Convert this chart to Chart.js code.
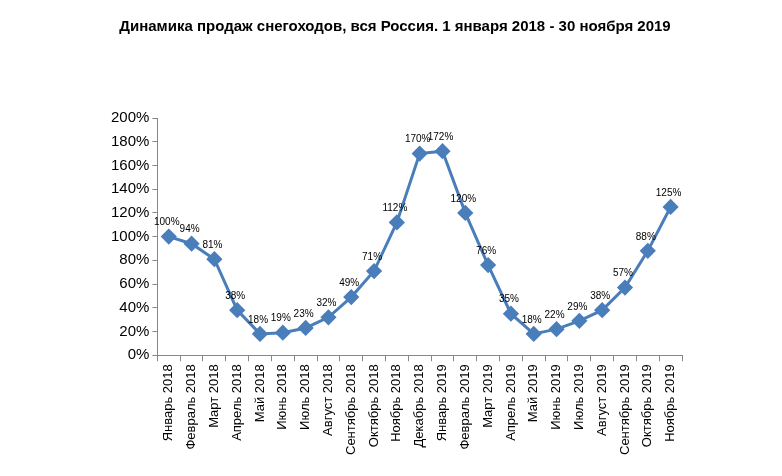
<!DOCTYPE html>
<html>
<head>
<meta charset="utf-8">
<script src="https://cdn.jsdelivr.net/npm/chart.js@4"></script>
<style>
  body { margin: 0; background: #fff; }
  #wrap { width: 782px; height: 476px; position: relative; }
</style>
</head>
<body>
<div id="wrap"><canvas id="salesChart"></canvas></div>
<script>
// Динамика продаж снегоходов
const months = ['Январь 2018', 'Февраль 2018', 'Март 2018', 'Апрель 2018', 'Май 2018', 'Июнь 2018',
  'Июль 2018', 'Август 2018', 'Сентябрь 2018', 'Октябрь 2018', 'Ноябрь 2018', 'Декабрь 2018',
  'Январь 2019', 'Февраль 2019', 'Март 2019', 'Апрель 2019', 'Май 2019', 'Июнь 2019',
  'Июль 2019', 'Август 2019', 'Сентябрь 2019', 'Октябрь 2019', 'Ноябрь 2019'];
const salesPct = [100, 94, 81, 38, 18, 19, 23, 32, 49, 71, 112, 170, 172, 120, 76, 35, 18, 22, 29, 38, 57, 88, 125];

const pointLabels = {
    id: 'pointLabels',
    afterDatasetsDraw(chart) {
        const ctx = chart.ctx;
        const meta = chart.getDatasetMeta(0);
        ctx.save();
        ctx.font = '10px Arial, "Liberation Sans"';
        ctx.fillStyle = '#000';
        ctx.textAlign = 'center';
        ctx.textBaseline = 'bottom';
        meta.data.forEach((pt, i) => {
            ctx.fillText(salesPct[i] + '%', pt.x - 2, pt.y - 9);
        });
        ctx.restore();
    }
};

new Chart(document.getElementById('salesChart').getContext('2d'), {
    type: 'line',
    data: {
        labels: months,
        datasets: [{
            data: salesPct,
            borderColor: '#4a7ebb',
            backgroundColor: '#4a7ebb',
            borderWidth: 3,
            pointStyle: 'rectRot',
            pointRadius: 6,
            pointHoverRadius: 6,
            tension: 0
        }]
    },
    options: {
        responsive: true,
        maintainAspectRatio: false,
        animation: false,
        layout: { padding: { left: 108, right: 100, top: 10, bottom: 18 } },
        plugins: {
            legend: { display: false },
            tooltip: { enabled: false },
            title: {
                display: true,
                text: 'Динамика продаж снегоходов, вся Россия. 1 января 2018 - 30 ноября 2019',
                color: '#000',
                font: { family: 'Arial, "Liberation Sans"', size: 15, weight: 'bold' },
                padding: { top: 8, bottom: 82 }
            }
        },
        scales: {
            x: {
                offset: true,
                grid: { display: true, drawOnChartArea: false, offset: true, color: '#888', tickLength: 6 },
                border: { color: '#888' },
                ticks: {
                    color: '#000',
                    maxRotation: 90,
                    minRotation: 90,
                    autoSkip: false,
                    font: { family: 'Arial, "Liberation Sans"', size: 13 }
                }
            },
            y: {
                min: 0,
                max: 200,
                grid: { display: true, drawOnChartArea: false, color: '#888', tickLength: 5 },
                border: { color: '#888' },
                ticks: {
                    stepSize: 20,
                    color: '#000',
                    font: { family: 'Arial, "Liberation Sans"', size: 15 },
                    callback: v => v + '%'
                }
            }
        }
    },
    plugins: [pointLabels]
});
</script>
</body>
</html>
